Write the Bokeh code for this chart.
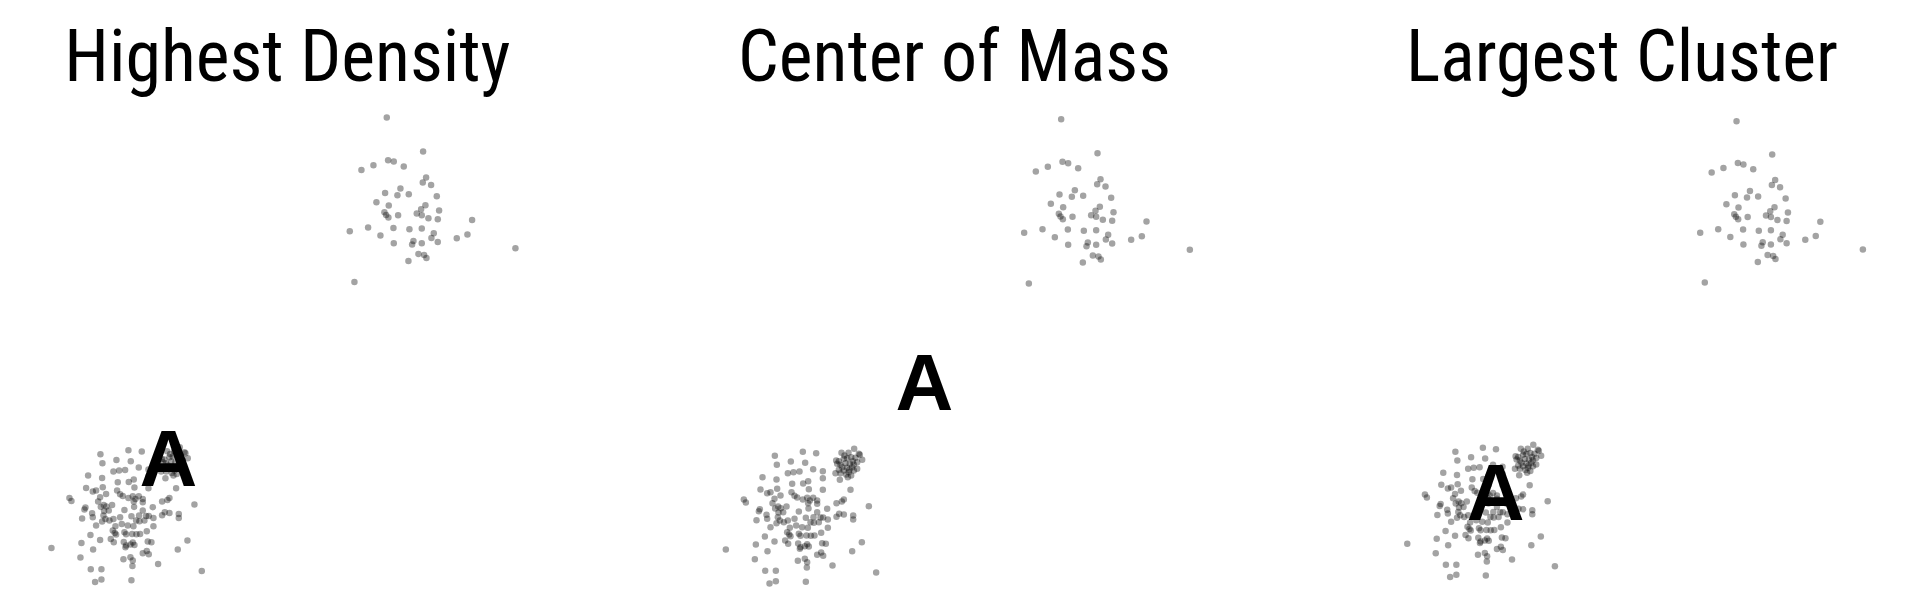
from bokeh.plotting import figure
from bokeh.layouts import row
from bokeh.models import Range1d, ColumnDataSource
from bokeh.core.properties import value
from bokeh.embed import file_html
from bokeh.resources import INLINE

# ---- data (arbitrary units) ----
upper_x = [108.2, 119.1, 108.6, 110.3, 104.2, 100.6, 113.3, 120.0, 119.0, 121.5,
           112.3, 107.7, 111.4, 114.8, 123.2, 105.1, 108.8, 119.8, 118.5, 123.9,
           107.5, 108.0, 108.7, 111.6, 117.2, 118.7, 120.7, 123.5, 133.8, 102.6,
           97.1, 110.2, 115.0, 118.7, 106.3, 122.3, 121.6, 129.2, 132.4, 110.3,
           115.8, 116.2, 118.7, 123.5, 146.8, 117.7, 119.4, 120.1, 114.7, 98.5]
upper_y = [144.4, 134.2, 131.6, 131.2, 130.1, 128.7, 129.7, 126.4, 124.9, 124.2,
           123.1, 121.8, 121.1, 121.4, 120.8, 119.0, 118.0, 118.1, 116.9, 116.5,
           116.0, 115.2, 114.4, 115.1, 115.6, 115.1, 114.2, 113.9, 113.7, 111.4,
           110.3, 111.3, 110.9, 111.1, 109.0, 109.7, 108.3, 108.2, 109.3, 106.7,
           106.3, 107.4, 106.7, 107.1, 105.2, 103.5, 103.2, 102.3, 101.4, 95.1]

lower_x = [22.3, 30.7, 34.7, 22.9, 27.1, 31.4, 26.2, 27.9, 29.7, 18.6,
           22.8, 27.5, 30.8, 32.3, 33.8, 36.7, 36.7, 18.0, 20.0, 21.0,
           23.0, 27.3, 28.2, 29.0, 30.7, 32.5, 32.0, 33.8, 32.8, 35.0,
           36.7, 22.2, 24.0, 21.6, 23.3, 24.1, 25.8, 13.0, 13.6, 17.8,
           17.5, 19.8, 20.0, 16.8, 22.4, 23.4, 24.8, 23.2, 23.8, 25.0,
           21.0, 22.8, 26.2, 28.2, 29.5, 31.6, 32.4, 32.3, 33.9, 35.0,
           36.0, 36.8, 38.0, 38.2, 38.2, 35.0, 35.5, 28.7, 30.5, 32.2,
           33.0, 34.0, 26.8, 26.0, 26.6, 27.0, 29.5, 30.0, 31.8, 33.1,
           34.2, 36.2, 36.5, 37.6, 19.3, 22.2, 25.4, 26.3, 29.3, 30.0,
           31.3, 32.5, 32.0, 29.8, 16.6, 7.6, 20.1, 16.3, 35.0, 36.8,
           36.2, 31.3, 29.2, 32.0, 31.9, 39.6, 45.5, 48.4, 50.5, 45.8,
           45.8, 42.4, 43.0, 41.6, 40.8, 43.0, 40.8, 45.0, 52.7, 19.4,
           22.6, 20.7, 22.6, 31.6]
lower_y = [43.4, 44.6, 44.2, 40.7, 41.7, 41.3, 38.2, 38.5, 38.7, 37.0,
           36.3, 35.0, 35.1, 35.8, 39.4, 38.8, 36.7, 33.3, 32.2, 32.5,
           33.5, 32.5, 31.4, 30.9, 30.3, 33.4, 30.8, 30.8, 30.0, 30.0,
           33.2, 30.5, 31.5, 29.2, 28.2, 27.7, 28.2, 30.3, 29.4, 27.4,
           26.8, 25.7, 24.5, 24.1, 27.6, 26.4, 26.5, 25.0, 24.0, 23.5,
           22.0, 23.2, 24.0, 24.5, 26.7, 24.8, 27.6, 29.2, 25.0, 26.5,
           24.9, 24.9, 27.5, 24.3, 21.8, 29.0, 23.5, 22.5, 22.0, 21.8,
           23.5, 23.3, 21.8, 20.5, 19.8, 19.3, 20.0, 19.4, 19.5, 19.4,
           19.5, 20.3, 17.2, 17.0, 19.2, 17.7, 18.0, 17.0, 17.1, 16.0,
           16.3, 16.2, 16.9, 15.5, 16.8, 15.3, 14.8, 12.4, 13.7, 13.4,
           14.4, 12.5, 11.9, 11.5, 9.9, 10.5, 14.8, 17.5, 28.3, 25.5,
           24.3, 29.7, 30.3, 26.0, 25.1, 25.8, 29.2, 33.2, 8.4, 8.9,
           8.9, 5.1, 5.8, 5.6]

dense_x = [46.1, 44.4, 42.3, 47.8, 48.5, 40.7, 41.5, 43.0, 44.0, 45.2,
           46.5, 47.0, 41.0, 42.0, 43.5, 44.8, 46.0, 45.5, 44.0, 42.5,
           41.5, 43.0, 44.5, 46.0, 42.0, 43.7, 45.2, 44.2, 40.5, 41.8,
           47.0, 47.5, 43.2, 45.7, 44.7]
dense_y = [45.5, 44.3, 44.3, 43.7, 42.2, 42.0, 41.8, 42.5, 42.7, 43.0,
           42.8, 41.5, 41.0, 40.7, 41.2, 41.0, 40.8, 40.0, 39.8, 40.0,
           39.2, 39.0, 38.5, 39.0, 38.2, 37.8, 37.5, 37.0, 38.2, 36.2,
           39.5, 44.0, 43.5, 41.8, 39.2]

titles = ["Highest Density", "Center of Mass", "Largest Cluster"]
label_x = [42.7, 67.2, 34.6]      # position of the "A" label per method
label_y = [42.2, 65.3, 30.9]
title_x = [78.4, 76.2, 73.2]
title_y = [162.8, 163.2, 164.2]

# view windows per panel
x_ranges = [(-7.68, 184.32), (-18.0, 174.0), (-31.13, 164.1)]
y_ranges = [(-0.48, 179.52), (0.0, 180.0), (-2.05, 181.27)]
widths = [640, 640, 639]
HEIGHT = 600

all_x = upper_x + lower_x + dense_x
all_y = upper_y + lower_y + dense_y

TITLE_FONT = "Roboto Condensed, DejaVu Sans Condensed, Roboto"

figs = []
for i in range(3):
    p = figure(width=widths[i], height=HEIGHT, output_backend="svg",
               toolbar_location=None, x_axis_type=None, y_axis_type=None,
               x_range=Range1d(*x_ranges[i]), y_range=Range1d(*y_ranges[i]),
               min_border=0, min_border_left=0, min_border_right=0,
               min_border_top=0, min_border_bottom=0)
    p.grid.visible = False
    p.outline_line_color = None
    p.background_fill_color = "white"
    p.border_fill_color = "white"

    src = ColumnDataSource(dict(x=all_x, y=all_y))
    p.scatter("x", "y", source=src, size=6.5, fill_color="black",
              fill_alpha=0.36, line_color=None)

    p.text(x=[label_x[i]], y=[label_y[i]], text=["A"],
           text_font=value("Liberation Sans"), text_font_style="bold",
           text_font_size="80px", text_align="center", text_baseline="middle",
           text_color="black")

    p.text(x=[title_x[i]], y=[title_y[i]], text=[titles[i]],
           text_font=value(TITLE_FONT), text_font_size="72px",
           text_align="center", text_baseline="middle", text_color="black")
    figs.append(p)

layout = row(*figs, spacing=0)
open("out.html", "w").write(file_html(layout, INLINE))
